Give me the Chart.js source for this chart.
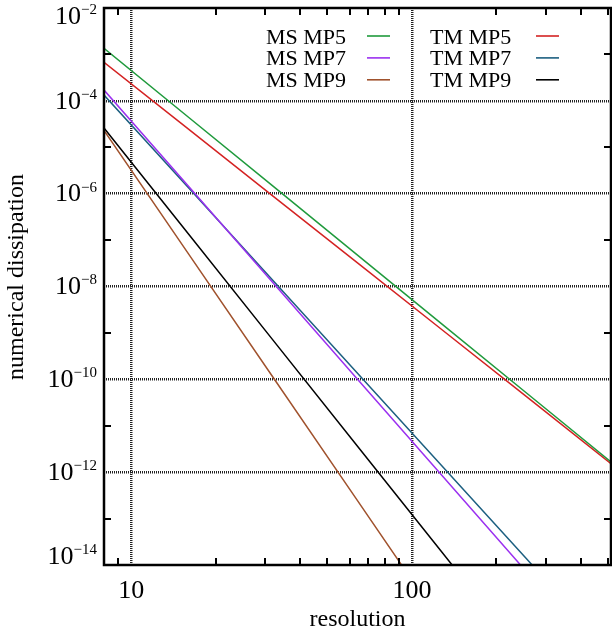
<!DOCTYPE html>
<html>
<head>
<meta charset="utf-8">
<script src="https://cdn.jsdelivr.net/npm/chart.js@4.4.1/dist/chart.umd.min.js"></script>
<style>
  html, body { margin: 0; padding: 0; background: #fff; }
  canvas { display: block; }
</style>
</head>
<body>
<canvas id="chart" width="612" height="633"></canvas>
<script>
// resolution (x) and numerical dissipation (y)
const resolution = [8, 16, 32, 64, 128, 256, 512];
const msMP5 = [1.35e-3, 4.43e-5, 1.45e-6, 4.74e-8, 1.55e-9, 5.08e-11, 1.66e-12];
const msMP7 = [1.71e-4, 1.44e-6, 1.21e-8, 1.01e-10, 8.51e-13, 7.14e-15, 5.98e-17];
const msMP9 = [2.29e-5, 5.04e-8, 1.11e-10, 2.43e-13, 5.35e-16, 1.2e-18, 2.6e-21];
const tmMP5 = [6.76e-4, 2.45e-5, 8.89e-7, 3.22e-8, 1.17e-9, 4.24e-11, 1.53e-12];
const tmMP7 = [1.33e-4, 1.34e-6, 1.34e-8, 1.35e-10, 1.35e-12, 1.36e-14, 1.36e-16];
const tmMP9 = [2.59e-5, 1.35e-7, 7.0e-10, 3.62e-12, 1.88e-14, 9.77e-17, 5.1e-19];

const seriesLabels = ['MS MP5', 'MS MP7', 'MS MP9', 'TM MP5', 'TM MP7', 'TM MP9'];
const seriesColors = ['#1f9a3c', '#9b30f0', '#a0522d', '#d42222', '#1c5f80', '#000000'];
const seriesValues = [msMP5, msMP7, msMP9, tmMP5, tmMP7, tmMP9];

const xMajor = [10, 100];
const xMinor = [9, 20, 30, 40, 50, 60, 70, 80, 90, 200, 300, 400, 500];
const yLabelExp = [-2, -4, -6, -8, -10, -12, -14];
const yMajor = [1e-4, 1e-6, 1e-8, 1e-10, 1e-12];
const yMinor = [1e-3, 1e-5, 1e-7, 1e-9, 1e-11, 1e-13];

const serif = "'Liberation Serif', 'Times New Roman', serif";

const framePlugin = {
  id: 'frame',
  afterDraw(chart) {
    const {ctx, chartArea: a, scales: {x, y}} = chart;
    ctx.save();
    ctx.strokeStyle = '#000';

    // inward ticks
    ctx.lineWidth = 2;
    ctx.beginPath();
    xMinor.forEach(v => {
      const px = Math.round(x.getPixelForValue(v));
      ctx.moveTo(px, a.bottom); ctx.lineTo(px, a.bottom - 7);
      ctx.moveTo(px, a.top); ctx.lineTo(px, a.top + 7);
    });
    yMinor.forEach(v => {
      const py = Math.round(y.getPixelForValue(v));
      ctx.moveTo(a.left, py); ctx.lineTo(a.left + 7, py);
      ctx.moveTo(a.right, py); ctx.lineTo(a.right - 7, py);
    });
    ctx.stroke();

    // box
    ctx.lineWidth = 2.5;
    ctx.strokeRect(a.left, a.top, a.right - a.left, a.bottom - a.top);

    // y tick labels 10^k
    ctx.fillStyle = '#000';
    ctx.textBaseline = 'middle';
    yLabelExp.forEach(k => {
      let cy = y.getPixelForValue(Math.pow(10, k));
      cy = Math.min(Math.max(cy, a.top + 8.5), a.bottom - 9);
      ctx.font = '15px ' + serif;
      const sup = '\u2212' + (-k);
      const supW = ctx.measureText(sup).width;
      ctx.textAlign = 'right';
      ctx.fillText(sup, a.left - 7, cy - 6);
      ctx.font = '26px ' + serif;
      ctx.fillText('10', a.left - 7 - supW, cy + 1);
    });

    // x tick labels
    ctx.font = '26px ' + serif;
    ctx.textAlign = 'center';
    ctx.textBaseline = 'alphabetic';
    xMajor.forEach(v => {
      ctx.fillText(String(v), x.getPixelForValue(v), a.bottom + 33);
    });

    // axis titles
    ctx.font = '24px ' + serif;
    ctx.fillText('resolution', (a.left + a.right) / 2, a.bottom + 61);
    ctx.save();
    ctx.translate(23, 277);
    ctx.rotate(-Math.PI / 2);
    ctx.fillText('numerical dissipation', 0, 0);
    ctx.restore();

    ctx.restore();
  }
};

const legendPlugin = {
  id: 'twoColLegend',
  afterDraw(chart) {
    const ctx = chart.ctx;
    const cols = [{text: 266, line: 367}, {text: 430, line: 536}];
    ctx.save();
    ctx.font = '22px ' + serif;
    ctx.textAlign = 'left';
    ctx.textBaseline = 'alphabetic';
    chart.data.datasets.forEach((ds, i) => {
      const c = cols[Math.floor(i / 3)];
      const row = i % 3;
      const base = 43.5 + row * 21.9;
      ctx.fillStyle = '#000';
      ctx.fillText(ds.label, c.text, base);
      ctx.strokeStyle = ds.borderColor;
      ctx.lineWidth = 1.6;
      ctx.beginPath();
      ctx.moveTo(c.line, base - 7.5);
      ctx.lineTo(c.line + 23, base - 7.5);
      ctx.stroke();
    });
    ctx.restore();
  }
};

const datasets = seriesLabels.map((label, i) => ({
  label: label,
  data: resolution.map((r, j) => ({x: r, y: seriesValues[i][j]})),
  borderColor: seriesColors[i],
  backgroundColor: seriesColors[i],
  borderWidth: 1.5,
  pointRadius: 0,
  tension: 0,
  fill: false
}));

new Chart(document.getElementById('chart'), {
  type: 'line',
  data: {datasets: datasets},
  options: {
    responsive: false,
    animation: false,
    layout: {padding: {left: 104, right: 1, top: 8, bottom: 68}},
    plugins: {legend: {display: false}, tooltip: {enabled: false}},
    scales: {
      x: {
        type: 'logarithmic',
        min: 8,
        max: 512,
        afterBuildTicks: axis => { axis.ticks = xMajor.map(v => ({value: v})); },
        ticks: {display: false},
        grid: {color: '#222', lineWidth: 2.5, drawTicks: false},
        border: {display: false, dash: [1, 1]}
      },
      y: {
        type: 'logarithmic',
        min: 1e-14,
        max: 1e-2,
        afterBuildTicks: axis => { axis.ticks = yMajor.map(v => ({value: v})); },
        ticks: {display: false},
        grid: {color: '#222', lineWidth: 2.5, drawTicks: false},
        border: {display: false, dash: [1, 1]}
      }
    }
  },
  plugins: [framePlugin, legendPlugin]
});
</script>
</body>
</html>
